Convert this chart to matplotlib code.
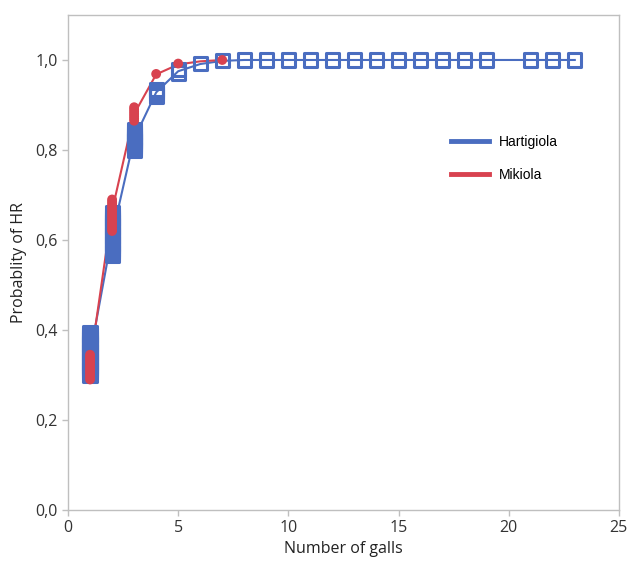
import matplotlib
matplotlib.use("Agg")
import matplotlib.pyplot as plt
from matplotlib.lines import Line2D

# --- data -------------------------------------------------------------
# Hartigiola: individual predicted probabilities (hollow squares)
hart_x = ([1] * 20 + [2] * 20 + [3] * 12 + [4] * 4 + [5] * 2 + [6, 7]
          + list(range(8, 20)) + [21, 22, 23])
hart_y = ([0.300, 0.305, 0.310, 0.315, 0.320, 0.325, 0.330, 0.335, 0.340, 0.345,
           0.350, 0.355, 0.360, 0.365, 0.370, 0.375, 0.380, 0.385, 0.390, 0.395]
          + [0.565, 0.570, 0.575, 0.580, 0.585, 0.590, 0.595, 0.600, 0.605, 0.610,
             0.615, 0.620, 0.625, 0.630, 0.635, 0.640, 0.645, 0.650, 0.655, 0.660]
          + [0.800, 0.804, 0.808, 0.812, 0.816, 0.820, 0.824, 0.828, 0.832, 0.836,
             0.840, 0.846]
          + [0.920, 0.925, 0.930, 0.935]
          + [0.971, 0.978]
          + [0.992, 0.998]
          + [1.0] * 12 + [1.0] * 3)
# Hartigiola fitted curve
hart_line_x = [1, 2, 3, 4, 5, 6, 7, 8, 9, 10, 11, 12, 13, 14, 15, 16, 17, 18, 19, 21, 22, 23]
hart_line_y = [0.345, 0.61, 0.825, 0.928, 0.975, 0.991, 0.998, 1.0, 1.0, 1.0, 1.0,
               1.0, 1.0, 1.0, 1.0, 1.0, 1.0, 1.0, 1.0, 1.0, 1.0, 1.0]

# Mikiola: individual predicted probabilities (filled circles)
mik_x = [1] * 12 + [2] * 15 + [3] * 7 + [4, 5, 7]
mik_y = ([0.290, 0.295, 0.300, 0.305, 0.310, 0.315, 0.320, 0.325, 0.330, 0.335,
          0.340, 0.345]
         + [0.620, 0.625, 0.630, 0.635, 0.640, 0.645, 0.650, 0.655, 0.660, 0.665,
            0.670, 0.675, 0.680, 0.685, 0.690]
         + [0.865, 0.870, 0.875, 0.880, 0.885, 0.890, 0.895]
         + [0.969, 0.992, 1.0])
# Mikiola fitted curve
mik_line_x = [1, 2, 3, 4, 5, 6, 7]
mik_line_y = [0.325, 0.665, 0.88, 0.968, 0.990, 0.997, 1.0]

series_names = ["Hartigiola", "Mikiola"]
x_ticks = [0, 5, 10, 15, 20, 25]
y_ticks = [0.0, 0.2, 0.4, 0.6, 0.8, 1.0]
y_tick_labels = ["0,0", "0,2", "0,4", "0,6", "0,8", "1,0"]

# --- style ------------------------------------------------------------
BLUE = "#4a6dc0"
RED = "#d8424f"
GRAY = "#bfbfbf"

plt.rcParams["font.family"] = ["Open Sans", "DejaVu Sans"]

fig = plt.figure(figsize=(6.27, 5.61), dpi=100)
ax = fig.add_axes([0.1085, 0.0909, 0.8785, 0.8824])

ax.plot(hart_line_x, hart_line_y, color=BLUE, lw=1.5, zorder=2)
ax.plot(mik_line_x, mik_line_y, color=RED, lw=1.5, zorder=2)
ax.scatter(hart_x, hart_y, marker="s", s=90, facecolors="none",
           edgecolors=BLUE, linewidths=2.2, zorder=3)
ax.scatter(mik_x, mik_y, marker="o", s=50, color=RED, edgecolors="none", zorder=4)

ax.set_xlim(0, 25)
ax.set_ylim(0, 1.1)
ax.set_xticks(x_ticks)
ax.set_yticks(y_ticks)
ax.set_yticklabels(y_tick_labels)
ax.tick_params(axis="both", colors=GRAY, length=4, width=1, labelsize=11.5,
               labelcolor="#333333", direction="out")
for s in ax.spines.values():
    s.set_color(GRAY)
    s.set_linewidth(1)

ax.set_xlabel("Number of galls", fontsize=11.5, color="#222222", labelpad=3)
ax.set_ylabel("Probablity of HR", fontsize=11.5, color="#222222", labelpad=6)

handles = [Line2D([], [], color=BLUE, lw=3.5), Line2D([], [], color=RED, lw=3.5)]
leg = ax.legend(handles, series_names, loc="upper left",
                bbox_to_anchor=(0.672, 0.783), frameon=False, handlelength=2.75,
                labelspacing=1.35, handletextpad=0.7,
                prop={"family": "Liberation Sans", "size": 10})

fig.savefig("out.png", dpi=100)
